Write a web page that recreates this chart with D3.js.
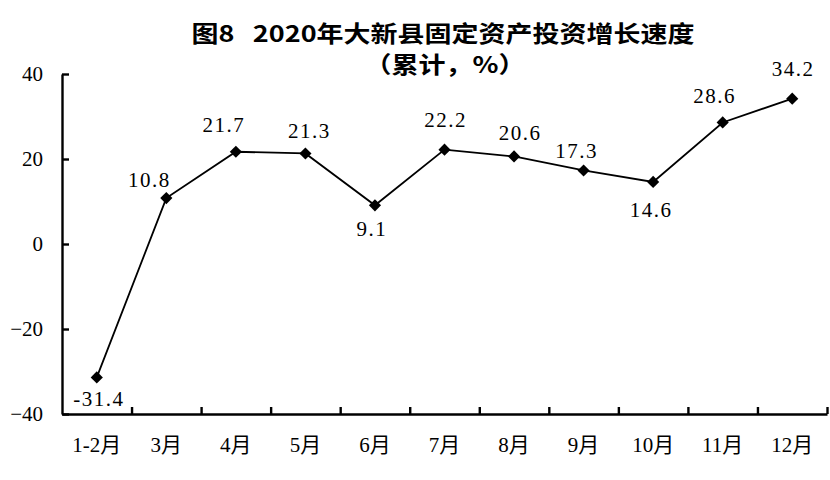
<!DOCTYPE html>
<html>
<head>
<meta charset="utf-8">
<script src="https://cdn.jsdelivr.net/npm/d3@7"></script>
<style>
  body { margin: 0; background: #fff; }
  .num { font-family: "Liberation Serif", "Noto Sans CJK SC", serif; font-size: 21px; fill: #000; }
  .ttl { font-family: "Noto Sans CJK SC", sans-serif; font-weight: bold; font-size: 27px; fill: #000; }
</style>
</head>
<body>
<div id="chart"></div>
<script>
// data
const months = ["1-2月", "3月", "4月", "5月", "6月", "7月", "8月", "9月", "10月", "11月", "12月"];
const growth = [-31.4, 10.8, 21.7, 21.3, 9.1, 22.2, 20.6, 17.3, 14.6, 28.6, 34.2];
const yTicks = [-40, -20, 0, 20, 40];

// label nudges (dx, baseline dy) from the point, like the hand-placed excel labels
const labelDx = [2, -17, -12, 4, -3, 1, 6, -7, -2, -8, 1];
const labelDy = [29, -11, -20, -15, 31, -23, -16, -12, 35, -19, -23];

const width = 830, height = 480;
const plotLeft = 62, plotRight = 827, plotTop = 74, plotBottom = 414;

let svg = d3.select("#chart")
    .append("svg")
    .attr("width", width)
    .attr("height", height);

svg.append("rect")
    .attr("width", width)
    .attr("height", height)
    .attr("fill", "#fff");

let x = d3.scaleBand()
    .domain(months)
    .range([plotLeft, plotRight])
    .padding(0);

let y = d3.scaleLinear()
    .domain([-40, 40])
    .range([plotBottom, plotTop]);

// boundary scale for the x ticks
let xEdge = d3.scaleLinear()
    .domain([0, months.length])
    .range([plotLeft, plotRight]);

//Title (glyphs a bit squat in the original, so squeeze vertically)
svg.append("text")
    .attr("class", "ttl")
    .attr("transform", "translate(443,42) scale(1,0.85)")
    .attr("text-anchor", "middle")
    .text("图8\u00a0\u00a0 2020年大新县固定资产投资增长速度");

svg.append("text")
    .attr("class", "ttl")
    .attr("transform", "translate(445,73) scale(1,0.85)")
    .attr("text-anchor", "middle")
    .text("（累计，%）");

//Y axis
let yAxis = svg.append("g")
    .attr("transform", `translate(${plotLeft},0)`)
    .call(d3.axisLeft(y)
        .tickValues(yTicks)
        .tickSizeInner(-7)
        .tickSizeOuter(0)
        .tickPadding(19)
        .tickFormat(d => d < 0 ? "\u2212" + Math.abs(d) : d));

//X axis - tick marks at the category edges
let xAxis = svg.append("g")
    .attr("transform", `translate(0,${plotBottom})`)
    .call(d3.axisBottom(xEdge)
        .tickValues(d3.range(1, months.length + 1))
        .tickSizeInner(-7)
        .tickSizeOuter(0)
        .tickFormat(""));

//X labels
svg.append("g")
    .attr("transform", `translate(0,${plotBottom})`)
    .call(d3.axisBottom(x).tickSize(0).tickPadding(23))
    .call(g => g.select(".domain").remove());

svg.selectAll(".tick text")
    .attr("class", "num")
    .attr("fill", "#000");

svg.selectAll(".domain, .tick line")
    .attr("stroke", "#000")
    .attr("stroke-width", 2.4);

//Line
let line = d3.line()
    .x((d, i) => x(months[i]) + x.bandwidth() / 2)
    .y(d => y(d));

svg.append("path")
    .datum(growth)
    .attr("d", line)
    .attr("fill", "none")
    .attr("stroke", "#000")
    .attr("stroke-width", 1.8);

//Markers
svg.selectAll(".marker")
    .data(growth)
    .enter()
    .append("path")
    .attr("class", "marker")
    .attr("d", d3.symbol().type(d3.symbolSquare).size(74))
    .attr("transform", (d, i) => `translate(${x(months[i]) + x.bandwidth() / 2},${y(d)}) rotate(45)`)
    .attr("fill", "#000");

//Data labels
svg.selectAll(".val")
    .data(growth)
    .enter()
    .append("text")
    .attr("class", "num")
    .attr("text-anchor", "middle")
    .attr("letter-spacing", "1.5px")
    .attr("x", (d, i) => x(months[i]) + x.bandwidth() / 2 + labelDx[i])
    .attr("y", (d, i) => y(d) + labelDy[i])
    .text(d => d < 0 ? "-" + Math.abs(d).toFixed(1) : d.toFixed(1));
</script>
</body>
</html>
